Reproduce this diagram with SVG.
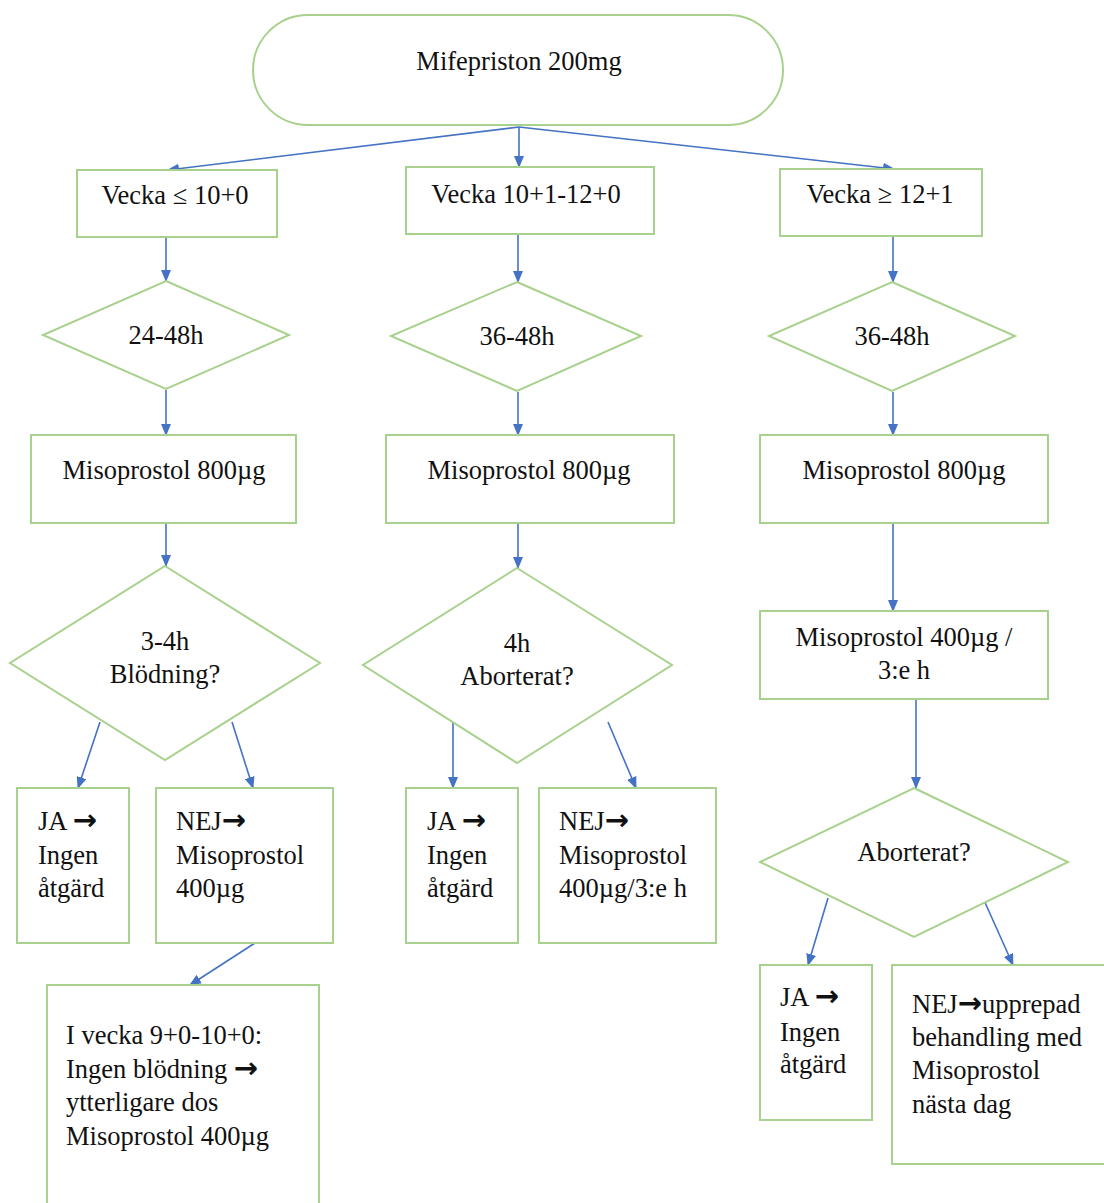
<svg xmlns="http://www.w3.org/2000/svg" width="1104" height="1203" viewBox="0 0 1104 1203">
<defs>
<marker id="ah" markerWidth="12" markerHeight="10" refX="11" refY="5" orient="auto" markerUnits="userSpaceOnUse">
<path d="M0,0 L12,5 L0,10 Z" fill="#4472C4"/>
</marker>
<style>
.n{fill:#fff;stroke:#A9D18E;stroke-width:2}
.t{font-family:'Liberation Serif','DejaVu Serif','Times New Roman',serif;font-size:26.5px;fill:#111}
.c{text-anchor:middle}
.a{font-family:'DejaVu Sans',sans-serif;font-weight:bold;font-size:29px}
.e{stroke:#4472C4;stroke-width:1.6;fill:none;marker-end:url(#ah)}
</style>
</defs>
<rect width="1104" height="1203" fill="#fff"/>
<g id="connectors">
<line class="e" x1="519" y1="127" x2="168" y2="170"/>
<line class="e" x1="519" y1="127" x2="519" y2="167"/>
<line class="e" x1="519" y1="127" x2="894" y2="169"/>
<line class="e" x1="166" y1="238" x2="166" y2="281"/>
<line class="e" x1="518" y1="235" x2="518" y2="282"/>
<line class="e" x1="893" y1="237" x2="893" y2="282"/>
<line class="e" x1="166" y1="390" x2="166" y2="435"/>
<line class="e" x1="518" y1="392" x2="518" y2="435"/>
<line class="e" x1="893" y1="392" x2="893" y2="435"/>
<line class="e" x1="166" y1="524" x2="166" y2="566"/>
<line class="e" x1="518" y1="524" x2="518" y2="568"/>
<line class="e" x1="893" y1="524" x2="893" y2="611"/>
<line class="e" x1="916" y1="700" x2="916" y2="788"/>
<line class="e" x1="100" y1="722" x2="78" y2="788"/>
<line class="e" x1="232" y1="722" x2="253" y2="788"/>
<line class="e" x1="453" y1="722" x2="453" y2="788"/>
<line class="e" x1="608" y1="722" x2="636" y2="788"/>
<line class="e" x1="255" y1="943" x2="190" y2="985"/>
<line class="e" x1="828" y1="898" x2="808" y2="965"/>
<line class="e" x1="983" y1="898" x2="1013" y2="965"/>
</g>
<g id="n-start"><rect class="n" x="253" y="15" width="530" height="110" rx="55" ry="55"/><text class="t c" x="519" y="70">Mifepriston 200mg</text></g>
<g id="n-v1"><rect class="n" x="77" y="170" width="200" height="67"/><text class="t c" x="175" y="204">Vecka ≤ 10+0</text></g>
<g id="n-v2"><rect class="n" x="406" y="167" width="248" height="67"/><text class="t c" x="526" y="203">Vecka 10+1-12+0</text></g>
<g id="n-v3"><rect class="n" x="780" y="169" width="202" height="67"/><text class="t c" x="880" y="203">Vecka ≥ 12+1</text></g>
<g id="n-d1"><polygon class="n" points="166,281 289,335 166,389 43,335"/><text class="t c" x="166" y="344">24-48h</text></g>
<g id="n-d2"><polygon class="n" points="517,282 641,336 517,391 391,336"/><text class="t c" x="517" y="345">36-48h</text></g>
<g id="n-d3"><polygon class="n" points="892,282 1015,336 892,391 769,336"/><text class="t c" x="892" y="345">36-48h</text></g>
<g id="n-m1"><rect class="n" x="31" y="435" width="265" height="88"/><text class="t c" x="164" y="479">Misoprostol 800µg</text></g>
<g id="n-m2"><rect class="n" x="386" y="435" width="288" height="88"/><text class="t c" x="529" y="479">Misoprostol 800µg</text></g>
<g id="n-m3"><rect class="n" x="760" y="435" width="288" height="88"/><text class="t c" x="904" y="479">Misoprostol 800µg</text></g>
<g id="n-d4"><polygon class="n" points="165,566 320,663 165,760 10,663"/><text class="t c" x="165" y="650">3-4h</text><text class="t c" x="165" y="683">Blödning?</text></g>
<g id="n-d5"><polygon class="n" points="517,568 672,665 517,763 363,665"/><text class="t c" x="517" y="652">4h</text><text class="t c" x="517" y="685">Aborterat?</text></g>
<g id="n-m4"><rect class="n" x="760" y="611" width="288" height="88"/><text class="t c" x="904" y="646">Misoprostol 400µg /</text><text class="t c" x="904" y="679">3:e h</text></g>
<g id="n-d6"><polygon class="n" points="914,788 1068,862 914,937 760,862"/><text class="t c" x="914" y="861">Aborterat?</text></g>
<g id="n-ja1"><rect class="n" x="17" y="788" width="112" height="155"/><text class="t" x="38" y="830">JA <tspan class="a">→</tspan></text><text class="t" x="38" y="864">Ingen</text><text class="t" x="38" y="897">åtgärd</text></g>
<g id="n-nej1"><rect class="n" x="156" y="788" width="177" height="155"/><text class="t" x="176" y="830">NEJ<tspan class="a">→</tspan></text><text class="t" x="176" y="864">Misoprostol</text><text class="t" x="176" y="897">400µg</text></g>
<g id="n-ja2"><rect class="n" x="406" y="788" width="112" height="155"/><text class="t" x="427" y="830">JA <tspan class="a">→</tspan></text><text class="t" x="427" y="864">Ingen</text><text class="t" x="427" y="897">åtgärd</text></g>
<g id="n-nej2"><rect class="n" x="539" y="788" width="177" height="155"/><text class="t" x="559" y="830">NEJ<tspan class="a">→</tspan></text><text class="t" x="559" y="864">Misoprostol</text><text class="t" x="559" y="897">400µg/3:e h</text></g>
<g id="n-extra"><rect class="n" x="47" y="985" width="272" height="230"/><text class="t" x="66" y="1044">I vecka 9+0-10+0:</text><text class="t" x="66" y="1078">Ingen blödning <tspan class="a">→</tspan></text><text class="t" x="66" y="1111">ytterligare dos</text><text class="t" x="66" y="1145">Misoprostol 400µg</text></g>
<g id="n-ja3"><rect class="n" x="760" y="965" width="112" height="155"/><text class="t" x="780" y="1006">JA <tspan class="a">→</tspan></text><text class="t" x="780" y="1041">Ingen</text><text class="t" x="780" y="1073">åtgärd</text></g>
<g id="n-nej3"><rect class="n" x="892" y="965" width="220" height="199"/><text class="t" x="912" y="1013">NEJ<tspan class="a">→</tspan>upprepad</text><text class="t" x="912" y="1046">behandling med</text><text class="t" x="912" y="1079">Misoprostol</text><text class="t" x="912" y="1113">nästa dag</text></g>
</svg>
